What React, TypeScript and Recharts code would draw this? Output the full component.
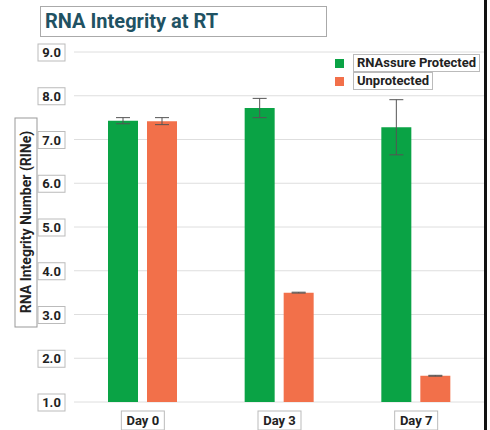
import React from 'react'
import { BarChart, Bar, XAxis, YAxis, CartesianGrid, ErrorBar, Label } from 'recharts'

const days = ['Day 0', 'Day 3', 'Day 7']
const protectedRin = [7.43, 7.72, 7.28]
const protectedErr = [0.07, 0.22, 0.63]
const unprotectedRin = [7.42, 3.5, 1.6]
const unprotectedErr = [0.08, 0.01, 0.01]
const yTicks = [1, 2, 3, 4, 5, 6, 7, 8, 9]

const GREEN = '#0aa345'
const ORANGE = '#f2704a'
const FONT = 'Roboto, "Open Sans", sans-serif'

const data = days.map((day, i) => ({
  day,
  protected: protectedRin[i],
  protectedErr: protectedErr[i],
  unprotected: unprotectedRin[i],
  unprotectedErr: unprotectedErr[i],
}))

const YTick = ({ x, y, payload }: any) => (
  <g>
    <rect x={x - 28} y={y - 8} width={27} height={17} fill="#fff" stroke="#bbb" />
    <text x={x - 14.5} y={y + 5} textAnchor="middle" fontSize={13} fontWeight={700} fill="#222" fontFamily={FONT}>
      {Number(payload.value).toFixed(1)}
    </text>
  </g>
)

const XTick = ({ x, y, payload }: any) => (
  <g>
    <rect x={x - 21} y={y + 1} width={43} height={19} fill="#fff" stroke="#bbb" />
    <text x={x + 0.5} y={y + 15} textAnchor="middle" fontSize={13} fontWeight={700} fill="#222" fontFamily={FONT}>
      {payload.value}
    </text>
  </g>
)

const YLabel = () => {
  const cx = 26
  const cy = 222
  return (
    <g>
      <rect x={cx - 11} y={118} width={22} height={209} fill="#fff" stroke="#999" />
      <text x={cx} y={cy} transform={`rotate(-90 ${cx} ${cy})`} dy={5} textAnchor="middle" fontSize={14} fontWeight={700} fill="#222" fontFamily={FONT}>
        RNA Integrity Number (RINe)
      </text>
    </g>
  )
}

const legendItems = [
  { label: 'RNAssure Protected', color: GREEN },
  { label: 'Unprotected', color: ORANGE },
]

export default function App() {
  return (
    <div style={{ position: 'absolute', left: 0, top: 0, width: 490, height: 430, background: '#fff' }}>
      <div
        style={{
          position: 'absolute',
          left: 40,
          top: 6,
          width: 281,
          height: 29,
          border: '1px solid #aaa',
          fontFamily: FONT,
          fontWeight: 700,
          fontSize: 20,
          color: '#1f5263',
          lineHeight: '29px',
          paddingLeft: 4,
          boxSizing: 'content-box',
        }}
      >
        RNA Integrity at RT
      </div>
      <BarChart
        width={490}
        height={430}
        data={data}
        margin={{ top: 52, right: 6, bottom: 0, left: 14 }}
        barSize={30}
        barGap={9}
      >
        <CartesianGrid vertical={false} stroke="#dedede" />
        <XAxis dataKey="day" axisLine={false} tickLine={false} height={28} tick={<XTick />} interval={0} />
        <YAxis
          domain={[1, 9]}
          ticks={yTicks}
          axisLine={false}
          tickLine={false}
          width={60}
          tick={<YTick />}
          interval={0}
        >
          <Label content={<YLabel />} />
        </YAxis>
        <Bar dataKey="protected" name="RNAssure Protected" fill={GREEN} isAnimationActive={false}>
          <ErrorBar dataKey="protectedErr" width={7} stroke="#555" strokeWidth={1} />
        </Bar>
        <Bar dataKey="unprotected" name="Unprotected" fill={ORANGE} isAnimationActive={false}>
          <ErrorBar dataKey="unprotectedErr" width={7} stroke="#555" strokeWidth={1} />
        </Bar>
      </BarChart>
      <div
        style={{
          position: 'absolute',
          left: 335,
          top: 54,
          fontFamily: FONT,
          fontSize: 13,
          fontWeight: 700,
          color: '#222',
        }}
      >
        {legendItems.map((it) => (
          <div key={it.label} style={{ display: 'flex', alignItems: 'center', height: 18 }}>
            <span style={{ width: 9, height: 9, background: it.color, marginRight: 9 }} />
            <span style={{ border: '1px solid #bbb', padding: '0 3px', lineHeight: '16px', background: '#fff' }}>{it.label}</span>
          </div>
        ))}
      </div>
      <div style={{ position: 'absolute', left: 484, top: 0, width: 3, height: 430, background: '#111' }} />
    </div>
  )
}
